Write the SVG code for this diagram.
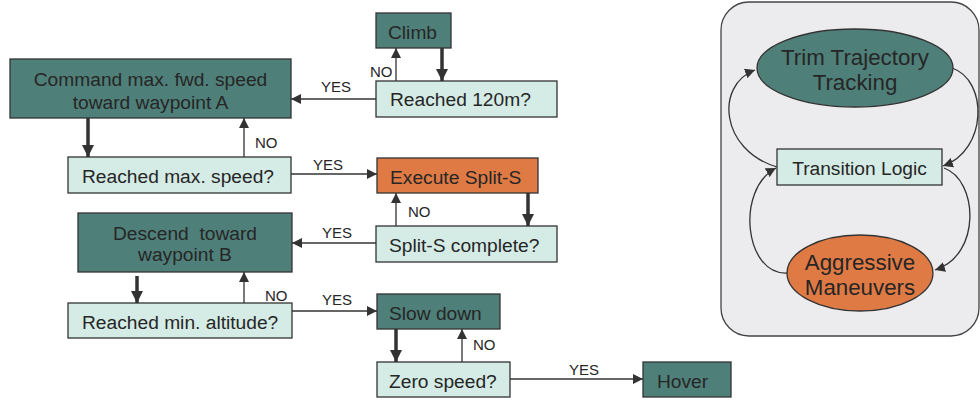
<svg xmlns="http://www.w3.org/2000/svg" width="980" height="402" viewBox="0 0 980 402">
<defs>
<style>
.dk{fill:#4f7f79;stroke:#333;stroke-width:1.3}
.lt{fill:#d5ebe5;stroke:#333;stroke-width:1.3}
.or{fill:#df7a45;stroke:#333;stroke-width:1.3}
text{font-family:"Liberation Sans",Arial,sans-serif;fill:#262626}
.t{font-size:19.2px}
.c{text-anchor:middle}
.lb{font-size:15px}
.big{font-size:22.3px;text-anchor:middle}
.thin{stroke:#333;stroke-width:1.3;fill:none}
.thick{stroke:#333;stroke-width:3.5;fill:none}
</style>
<marker id="ah" markerUnits="userSpaceOnUse" markerWidth="12" markerHeight="10" refX="10" refY="5" orient="auto" viewBox="0 0 12 10">
<path d="M0,0 L10,5 L0,10 Z" fill="#333"/>
</marker>
<marker id="ahb" markerUnits="userSpaceOnUse" markerWidth="14" markerHeight="12" refX="12" refY="6" orient="auto" viewBox="0 0 14 12">
<path d="M0,0 L12,6 L0,12 Z" fill="#333"/>
</marker>
</defs>
<rect x="0" y="0" width="980" height="402" fill="#ffffff"/>
<g id="panel">
<rect x="721" y="2" width="258" height="334" rx="28" fill="#ececee" stroke="#444" stroke-width="1.3"/>
</g>
<g id="connectors">
<line class="thick" x1="88" y1="115" x2="88" y2="157" marker-end="url(#ahb)"/>
<line class="thick" x1="442" y1="48" x2="442" y2="81" marker-end="url(#ahb)"/>
<line class="thick" x1="528" y1="193" x2="528" y2="226" marker-end="url(#ahb)"/>
<line class="thick" x1="137" y1="276" x2="137" y2="303" marker-end="url(#ahb)"/>
<line class="thick" x1="396" y1="329" x2="396" y2="362" marker-end="url(#ahb)"/>
<line class="thin" x1="244" y1="157" x2="244" y2="118" marker-end="url(#ah)"/>
<line class="thin" x1="396" y1="81" x2="396" y2="48" marker-end="url(#ah)"/>
<line class="thin" x1="396" y1="226" x2="396" y2="193" marker-end="url(#ah)"/>
<line class="thin" x1="244" y1="303" x2="244" y2="272" marker-end="url(#ah)"/>
<line class="thin" x1="462" y1="362" x2="462" y2="329" marker-end="url(#ah)"/>
<line class="thin" x1="376" y1="99" x2="291" y2="99" marker-end="url(#ah)"/>
<line class="thin" x1="291" y1="174" x2="377" y2="174" marker-end="url(#ah)"/>
<line class="thin" x1="376" y1="243" x2="292" y2="243" marker-end="url(#ah)"/>
<line class="thin" x1="292" y1="311" x2="377" y2="311" marker-end="url(#ah)"/>
<line class="thin" x1="510" y1="379" x2="643" y2="379" marker-end="url(#ah)"/>
<path class="thin" d="M777,167 C720,150 715,85 755,70" marker-end="url(#ah)"/>
<path class="thin" d="M952,68 C988,80 988,150 943,166" marker-end="url(#ah)"/>
<path class="thin" d="M787,273 C745,275 735,190 776,168" marker-end="url(#ah)"/>
<path class="thin" d="M944,168 C978,180 982,255 935,270" marker-end="url(#ah)"/>
<text class="lb" x="321" y="92">YES</text>
<text class="lb" x="313" y="170">YES</text>
<text class="lb" x="322" y="238">YES</text>
<text class="lb" x="322" y="305">YES</text>
<text class="lb" x="569" y="375">YES</text>
<text class="lb" x="370" y="77">NO</text>
<text class="lb" x="255" y="148">NO</text>
<text class="lb" x="408" y="217">NO</text>
<text class="lb" x="265" y="301">NO</text>
<text class="lb" x="473" y="350">NO</text>
</g>
<g id="command">
<rect class="dk" x="10" y="59" width="281" height="59"/>
<text class="t c" x="150.5" y="86">Command max. fwd. speed</text>
<text class="t c" x="150.5" y="109">toward waypoint A</text>
</g>
<g id="climb">
<rect class="dk" x="376" y="13" width="75" height="35"/>
<text class="t" x="388" y="38.5">Climb</text>
</g>
<g id="reached120">
<rect class="lt" x="376" y="81" width="181" height="36"/>
<text class="t" x="390" y="106">Reached 120m?</text>
</g>
<g id="reachedmax">
<rect class="lt" x="68" y="157" width="223" height="36"/>
<text class="t" x="82" y="183">Reached max. speed?</text>
</g>
<g id="splits">
<rect class="or" x="377" y="158" width="161" height="35"/>
<text class="t" x="390" y="183.5">Execute Split-S</text>
</g>
<g id="splitscomplete">
<rect class="lt" x="376" y="226" width="181" height="36"/>
<text class="t" x="389" y="252">Split-S complete?</text>
</g>
<g id="descend">
<rect class="dk" x="78" y="213" width="214" height="59"/>
<text class="t c" x="185" y="240" style="white-space:pre">Descend  toward</text>
<text class="t c" x="185" y="261">waypoint B</text>
</g>
<g id="reachedmin">
<rect class="lt" x="68" y="303" width="224" height="35"/>
<text class="t" x="82" y="329">Reached min. altitude?</text>
</g>
<g id="slowdown">
<rect class="dk" x="377" y="294" width="123" height="35"/>
<text class="t" x="389" y="320">Slow down</text>
</g>
<g id="zerospeed">
<rect class="lt" x="377" y="362" width="133" height="35"/>
<text class="t" x="389" y="388">Zero speed?</text>
</g>
<g id="hover">
<rect class="dk" x="643" y="362" width="88" height="35"/>
<text class="t" x="657" y="388">Hover</text>
</g>
<g id="trim">
<ellipse class="dk" cx="855" cy="68" rx="98" ry="39"/>
<text class="big" x="855" y="65">Trim Trajectory</text>
<text class="big" x="855" y="90">Tracking</text>
</g>
<g id="transition">
<rect class="lt" x="777" y="149" width="165" height="36"/>
<text class="t c" x="859.5" y="174.5">Transition Logic</text>
</g>
<g id="aggressive">
<ellipse class="or" cx="860" cy="273" rx="73" ry="38"/>
<text class="big" x="860" y="270">Aggressive</text>
<text class="big" x="860" y="295">Maneuvers</text>
</g>
</svg>
